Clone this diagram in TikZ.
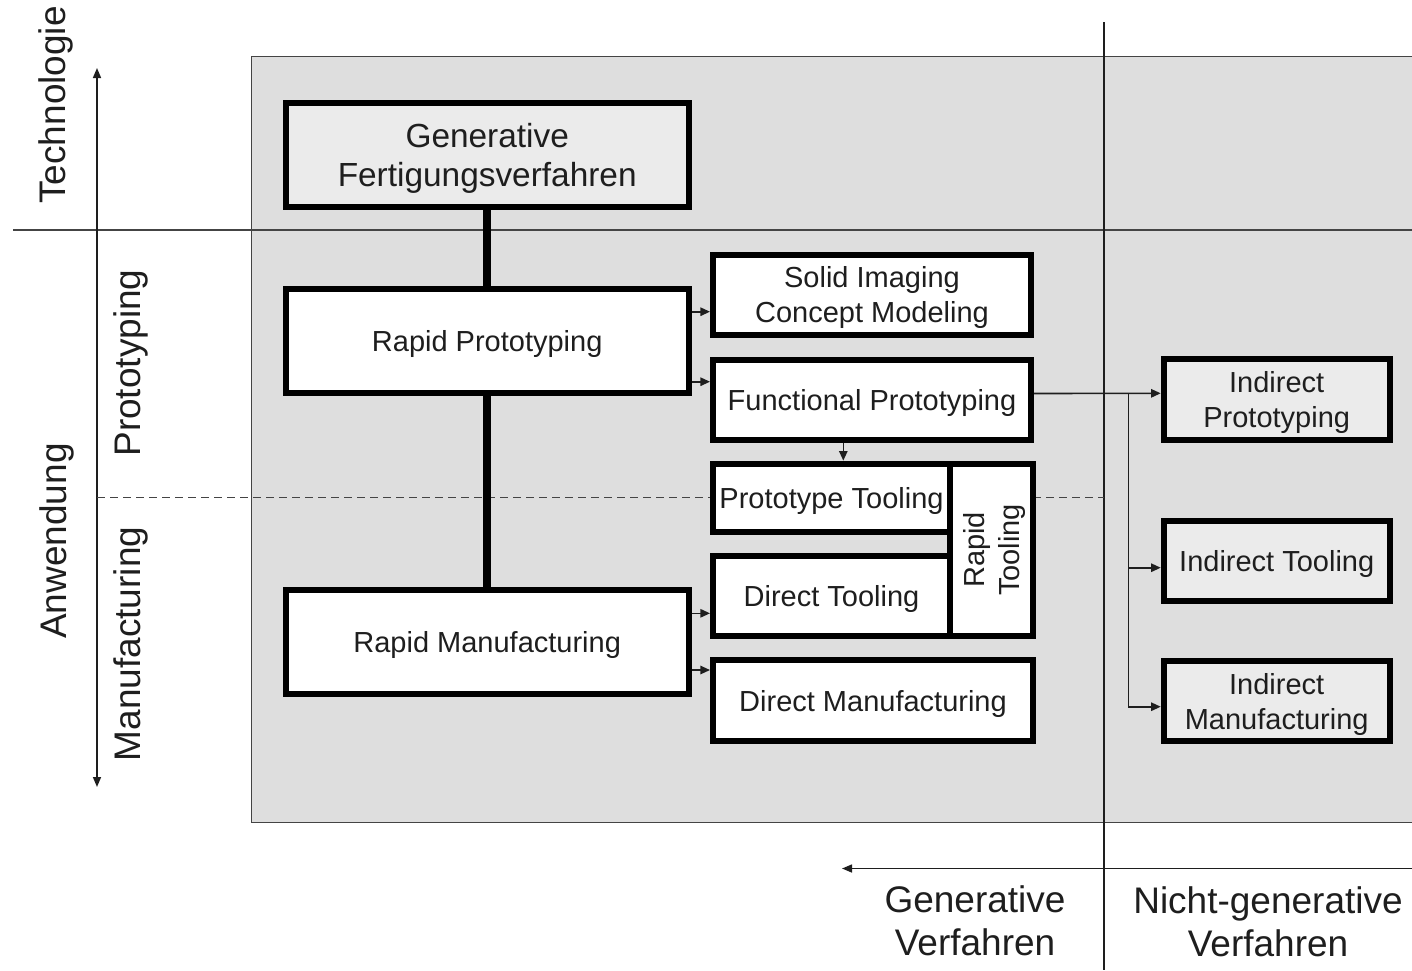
\documentclass[tikz,border=0pt]{standalone}
\usepackage{fontspec}
\setmainfont{Liberation Sans}
\usetikzlibrary{arrows.meta,calc}
\definecolor{bgfill}{HTML}{DEDEDE}
\definecolor{lightbox}{HTML}{EBEBEB}
\definecolor{ink}{HTML}{1E1E1E}
\definecolor{rule}{HTML}{444444}
\newcommand\boxfont{\fontsize{14.5}{17.5}\selectfont}
\newcommand\bigboxfont{\fontsize{16.7}{19.5}\selectfont}
\newcommand\axfont{\fontsize{18.5}{21.5}\selectfont}
\begin{document}
\begin{tikzpicture}[x=0.5pt,y=-0.5pt,
  box/.style={draw=black, line width=3pt, fill=white, inner sep=0pt, align=center, text=ink, font=\boxfont, text depth=0pt},
  greybox/.style={box, fill=lightbox},
  arr/.style={line width=0.8pt, draw=ink, -{Triangle[length=4.8pt,width=4.2pt]}},
  thick connector/.style={line width=4pt, draw=black},
  thinrule/.style={line width=0.75pt, draw=rule},
  lbl/.style={text=ink, font=\axfont, align=center, inner sep=0pt},
  rlbl/.style={lbl, rotate=90}]
\useasboundingbox (0,0) rectangle (1412,970);
% background panel
\fill[bgfill] (251.7,56.7) rectangle (1412,822.7);
\draw[line width=0.6pt, draw=rule] (1412,56.7) -- (251.7,56.7) -- (251.7,822.7) -- (1412,822.7);
% frame lines
\coordinate (hl1) at (13,230);
\coordinate (hl2) at (1412,230);
\draw[thinrule] (hl1) -- (hl2);
\coordinate (vl1) at (1104,22);
\coordinate (vl2) at (1104,970);
\draw[line width=0.75pt, draw=ink] (vl1) -- (vl2);
\coordinate (ax1) at (97,787);
\coordinate (ax2) at (97,68);
\draw[line width=0.75pt, draw=ink, {Triangle[length=5pt,width=4pt]}-{Triangle[length=5pt,width=4pt]}] (ax1) -- (ax2);
\coordinate (dl1) at (97,497);
\coordinate (dl2) at (1104,497);
\draw[line width=0.5pt, draw=rule, dash pattern=on 4pt off 2.5pt] (dl1) -- (dl2);
\coordinate (bx1) at (1412,868.5);
\coordinate (bx2) at (842,868.5);
\draw[line width=0.75pt, draw=ink, -{Triangle[length=5pt,width=4pt]}] (bx1) -- (bx2);
% axis labels
\node[rlbl] (tech) at (56,105) {Technologie};
\node[rlbl] (anw) at (57,541) {Anwendung};
\node[rlbl] (proto) at (131,363) {Prototyping};
\node[rlbl] (manu) at (131,644) {Manufacturing};
\node[lbl] (gen) at (975,921) {Generative\\Verfahren};
\node[lbl] (ngen) at (1268,922) {Nicht-generative\\Verfahren};
% left column boxes
\node[greybox, font=\bigboxfont, minimum width=201.5pt, minimum height=52pt] (GF) at (487.2,155) {Generative\\Fertigungsverfahren};
\node[box, minimum width=201.5pt, minimum height=52pt] (RP) at (487.2,341) {Rapid Prototyping};
\node[box, minimum width=201.5pt, minimum height=52pt] (RM) at (487.2,642) {Rapid Manufacturing};
% middle column boxes
\node[box, minimum width=159pt, minimum height=40pt] (SI) at (872,294.7) {Solid Imaging\\Concept Modeling};
\node[box, minimum width=159pt, minimum height=40pt] (FP) at (872,399.5) {Functional Prototyping};
\node[box, minimum width=118.5pt, minimum height=34.2pt] (PT) at (831.5,497.8) {Prototype Tooling};
\node[box, minimum width=118.5pt, minimum height=40.3pt] (DT) at (831.5,596) {Direct Tooling};
\node[box, minimum width=41.5pt, minimum height=86.3pt] (RT) at (991.5,550) {};
\node[text=ink, font=\boxfont, align=center, rotate=90, inner sep=0pt, text depth=0pt] (RTL) at (RT.center) {Rapid\\Tooling};
\node[box, minimum width=160pt, minimum height=40.3pt] (DM) at (873,700.7) {Direct Manufacturing};
% right column boxes
\node[greybox, minimum width=113pt, minimum height=40.3pt] (IP) at (1276.7,399.3) {Indirect\\Prototyping};
\node[greybox, minimum width=113pt, minimum height=40pt] (IT) at (1276.7,561.3) {Indirect Tooling};
\node[greybox, minimum width=113pt, minimum height=40.3pt] (IM) at (1276.7,701) {Indirect\\Manufacturing};
% thick connectors
\draw[thick connector] (GF.south) -- (RP.north);
\draw[thick connector] (RP.south) -- (RM.north);
% arrows
\draw[arr] ([yshift=-8.5pt]SI.west -| RP.east) -- ([yshift=-8.5pt]SI.west);
\draw[arr] ([yshift=8.9pt]FP.west -| RP.east) -- ([yshift=8.9pt]FP.west);
\draw[arr] ([yshift=-8.65pt]DT.west -| RM.east) -- ([yshift=-8.65pt]DT.west);
\draw[arr] ([yshift=15.35pt]DM.west -| RM.east) -- ([yshift=15.35pt]DM.west);
\draw[arr] ([xshift=-14.35pt]FP.south) -- ([xshift=-14.35pt]FP.south |- PT.north);
\draw[arr] ([yshift=3pt]FP.east) -- ([yshift=3pt]IP.west);
\coordinate (br) at (1128.3,393.3);
\draw[arr] (br) |- ([yshift=-3.2pt]IT.west);
\draw[arr] (br) |- ([yshift=-2.85pt]IM.west);
\end{tikzpicture}
\end{document}
